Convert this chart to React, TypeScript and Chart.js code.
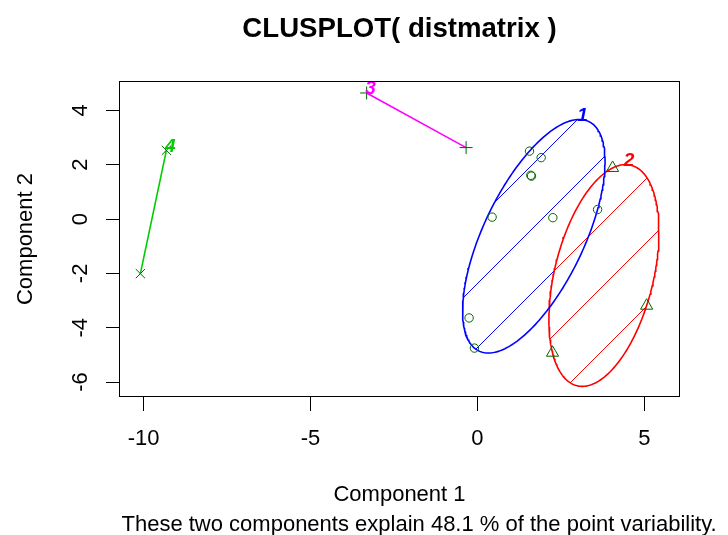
import React, { useEffect, useRef } from 'react';
import { Chart, registerables } from 'chart.js';

Chart.register(...registerables);

// ---------------- data ----------------
const TITLE = 'CLUSPLOT( distmatrix )';
const X_TITLE = 'Component 1';
const Y_TITLE = 'Component 2';
const SUBTITLE = 'These two components explain 48.1 % of the point variability.';

const CLUSTER_LABELS = ['1', '2', '3', '4'];

const C1_X = [1.56, 1.91, 1.60, 1.62, 0.44, 2.26, 3.60, -0.25, -0.09];
const C1_Y = [2.50, 2.26, 1.61, 1.58, 0.07, 0.05, 0.35, -3.64, -4.75];
const C2_X = [4.05, 5.07, 2.25];
const C2_Y = [1.88, -3.19, -4.92];
const C3_X = [-3.32, -0.34];
const C3_Y = [4.64, 2.63];
const C4_X = [-10.10, -9.32];
const C4_Y = [-2.01, 2.53];

const X_TICKS = [-10, -5, 0, 5];
const Y_TICKS = [-6, -4, -2, 0, 2, 4];
const X_LIMITS = [-10.74, 6.07];
const Y_LIMITS = [-6.55, 5.08];

// ---------------- styles ----------------
const FONT = "'Liberation Sans', Arial, Helvetica, sans-serif";
const POINT_COLOR = '#006400';
const CLUSTER_COLORS = ['#0000FF', '#FF0000', '#FF00FF', '#00CD00'];
const CLUSTER_MARKERS = ['circle', 'triangle', 'cross', 'crossRot'];
const MARKER_RADII = [4.2, 7, 6.5, 6.5];
const HATCH_SPACING = 64;
const HATCH_OFFSET = 1;
const SUBTITLE_BAND = 26.4;

// ---------------- geometry helpers ----------------
function inv3(m: number[][]): number[][] {
  const [a, b, c] = m[0];
  const [d, e, f] = m[1];
  const [g, h, i] = m[2];
  const A = e * i - f * h, B = -(d * i - f * g), C = d * h - e * g;
  const det = a * A + b * B + c * C;
  return [
    [A / det, -(b * i - c * h) / det, (b * f - c * e) / det],
    [B / det, (a * i - c * g) / det, -(a * f - c * d) / det],
    [C / det, -(a * h - b * g) / det, (a * e - b * d) / det],
  ];
}

// minimum volume enclosing ellipse (Khachiyan) -> outline points
function spanningEllipse(xs: number[], ys: number[], n = 240) {
  const m = xs.length;
  const u = new Array(m).fill(1 / m);
  for (let iter = 0; iter < 50000; iter++) {
    const X = [[0, 0, 0], [0, 0, 0], [0, 0, 0]];
    for (let k = 0; k < m; k++) {
      const q = [xs[k], ys[k], 1];
      for (let a = 0; a < 3; a++) for (let b = 0; b < 3; b++) X[a][b] += u[k] * q[a] * q[b];
    }
    const Xi = inv3(X);
    let maxM = -Infinity, j = 0;
    for (let k = 0; k < m; k++) {
      const q = [xs[k], ys[k], 1];
      let s = 0;
      for (let a = 0; a < 3; a++) for (let b = 0; b < 3; b++) s += q[a] * Xi[a][b] * q[b];
      if (s > maxM) { maxM = s; j = k; }
    }
    const step = (maxM - 3) / (3 * (maxM - 1));
    if (step < 1e-10) break;
    for (let k = 0; k < m; k++) u[k] *= 1 - step;
    u[j] += step;
  }
  let cx = 0, cy = 0;
  for (let k = 0; k < m; k++) { cx += u[k] * xs[k]; cy += u[k] * ys[k]; }
  let sxx = 0, syy = 0, sxy = 0;
  for (let k = 0; k < m; k++) {
    sxx += u[k] * xs[k] * xs[k];
    syy += u[k] * ys[k] * ys[k];
    sxy += u[k] * xs[k] * ys[k];
  }
  sxx = 2 * (sxx - cx * cx);
  syy = 2 * (syy - cy * cy);
  sxy = 2 * (sxy - cx * cy);
  const l11 = Math.sqrt(sxx);
  const l21 = sxy / l11;
  const l22 = Math.sqrt(Math.max(syy - l21 * l21, 0));
  const pts: { x: number; y: number }[] = [];
  for (let t = 0; t <= n; t++) {
    const a = (2 * Math.PI * t) / n;
    pts.push({ x: cx + l11 * Math.cos(a), y: cy + l21 * Math.cos(a) + l22 * Math.sin(a) });
  }
  return pts;
}

const CLUSTERS = [
  { xs: C1_X, ys: C1_Y },
  { xs: C2_X, ys: C2_Y },
  { xs: C3_X, ys: C3_Y },
  { xs: C4_X, ys: C4_Y },
].map((c, i) => {
  const points = c.xs.map((x, k) => ({ x, y: c.ys[k] }));
  const outline = c.xs.length >= 3 ? spanningEllipse(c.xs, c.ys) : points.slice();
  return {
    label: CLUSTER_LABELS[i],
    color: CLUSTER_COLORS[i],
    marker: CLUSTER_MARKERS[i],
    radius: MARKER_RADII[i],
    points,
    outline,
    hatch: c.xs.length >= 3,
  };
});

// ---------------- plugins ----------------
const hatchPlugin = {
  id: 'hatch',
  beforeDatasetsDraw(chart: any) {
    const { ctx, scales } = chart;
    const xs = scales.x, ys = scales.y;
    const W = chart.width;
    const c0 = Math.round(xs.getPixelForValue(0) + ys.getPixelForValue(0)) + HATCH_OFFSET;
    CLUSTERS.forEach((cl) => {
      if (!cl.hatch) return;
      ctx.save();
      ctx.beginPath();
      cl.outline.forEach((p, i) => {
        const px = xs.getPixelForValue(p.x), py = ys.getPixelForValue(p.y);
        if (i === 0) ctx.moveTo(px, py); else ctx.lineTo(px, py);
      });
      ctx.closePath();
      ctx.clip();
      ctx.strokeStyle = cl.color;
      ctx.globalAlpha = 1;
      ctx.lineWidth = 1;
      for (let k = -30; k <= 30; k++) {
        const c = c0 + k * HATCH_SPACING;
        ctx.beginPath();
        ctx.moveTo(0, c);
        ctx.lineTo(W, c - W);
        ctx.stroke();
      }
      ctx.restore();
    });
  },
};

const decorPlugin = {
  id: 'decor',
  afterDatasetsDraw(chart: any) {
    const { ctx, scales } = chart;
    const xs = scales.x, ys = scales.y;
    ctx.save();
    ctx.font = `italic bold 19px ${FONT}`;
    ctx.textAlign = 'center';
    ctx.textBaseline = 'middle';
    CLUSTERS.forEach((cl) => {
      let top = cl.outline[0];
      cl.outline.forEach((p) => { if (p.y > top.y) top = p; });
      ctx.fillStyle = cl.color;
      ctx.fillText(cl.label, xs.getPixelForValue(top.x) + 4, ys.getPixelForValue(top.y) - 4);
    });
    ctx.restore();
  },
  afterDraw(chart: any) {
    const { ctx, chartArea, scales } = chart;
    const ys = scales.y;
    ctx.save();
    ctx.strokeStyle = '#000';
    ctx.lineWidth = 1;
    const l = Math.round(chartArea.left) + 0.5;
    const t = Math.round(chartArea.top) + 0.5;
    const r = Math.round(chartArea.right) - 0.5;
    const b = Math.round(chartArea.bottom) - 0.5;
    ctx.strokeRect(l, t, r - l, b - t);
    // rotated y tick labels
    ctx.fillStyle = '#000';
    ctx.font = `22px ${FONT}`;
    ctx.textAlign = 'center';
    ctx.textBaseline = 'alphabetic';
    Y_TICKS.forEach((v) => {
      ctx.save();
      ctx.translate(chartArea.left - 32, ys.getPixelForValue(v));
      ctx.rotate(-Math.PI / 2);
      ctx.fillText(String(v), 0, 0);
      ctx.restore();
    });
    // sub title below the x axis title
    ctx.textAlign = 'left';
    ctx.font = `22px ${FONT}`;
    ctx.fillText(SUBTITLE, chartArea.left + 2.5, chart.height - 4.5);
    ctx.restore();
  },
};

// ---------------- component ----------------
export default function App() {
  const ref = useRef<HTMLCanvasElement>(null);

  useEffect(() => {
    document.body.style.margin = '0';
    const datasets: any[] = [];
    CLUSTERS.forEach((cl) => {
      datasets.push({
        data: cl.points,
        showLine: false,
        pointStyle: cl.marker,
        pointRadius: cl.radius,
        pointBorderColor: POINT_COLOR,
        pointBackgroundColor: 'rgba(0,0,0,0)',
        pointBorderWidth: 1,
      });
    });
    CLUSTERS.forEach((cl) => {
      datasets.push({
        data: cl.outline,
        showLine: true,
        pointRadius: 0,
        borderColor: cl.color,
        borderWidth: 1.6,
        fill: false,
        tension: 0,
      });
    });

    const chart = new Chart(ref.current as HTMLCanvasElement, {
      type: 'scatter',
      data: { datasets },
      options: {
        animation: false,
        responsive: false,
        maintainAspectRatio: false,
        devicePixelRatio: 1,
        events: [],
        layout: { padding: { left: 0, right: 48, top: 0, bottom: SUBTITLE_BAND } },
        plugins: {
          legend: { display: false },
          tooltip: { enabled: false },
          title: {
            display: true,
            text: TITLE,
            fullSize: false,
            color: '#000',
            font: { family: FONT, size: 27.6, weight: 'bold' },
            padding: { top: 12.5, bottom: 35.4 },
          },
        },
        scales: {
          x: {
            type: 'linear',
            min: X_LIMITS[0],
            max: X_LIMITS[1],
            afterBuildTicks: (s: any) => { s.ticks = X_TICKS.map((v) => ({ value: v })); },
            afterFit: (s: any) => { s.height = 111.6; },
            grid: { drawOnChartArea: false, drawTicks: true, tickLength: 14, color: '#000', tickColor: '#000', lineWidth: 1 },
            border: { display: false },
            ticks: {
              color: '#000',
              font: { family: FONT, size: 22 },
              padding: 15,
              minRotation: 0,
              maxRotation: 0,
              callback: (v: any) => String(v),
            },
            title: {
              display: true,
              text: X_TITLE,
              color: '#000',
              font: { family: FONT, size: 22 },
              padding: { top: 0, bottom: 0 },
            },
          },
          y: {
            type: 'linear',
            min: Y_LIMITS[0],
            max: Y_LIMITS[1],
            afterBuildTicks: (s: any) => { s.ticks = Y_TICKS.map((v) => ({ value: v })); },
            afterFit: (s: any) => { s.width = 119; },
            grid: { drawOnChartArea: false, drawTicks: true, tickLength: 13, color: '#000', tickColor: '#000', lineWidth: 1 },
            border: { display: false },
            ticks: { display: false },
            title: {
              display: true,
              text: Y_TITLE,
              color: '#000',
              font: { family: FONT, size: 22 },
              padding: { top: 12.3, bottom: 0 },
            },
          },
        },
      },
      plugins: [hatchPlugin, decorPlugin],
    } as any);
    return () => chart.destroy();
  }, []);

  return (
    <div style={{ width: 728, height: 535 }}>
      <canvas ref={ref} width={728} height={535} style={{ display: 'block' }} />
    </div>
  );
}
